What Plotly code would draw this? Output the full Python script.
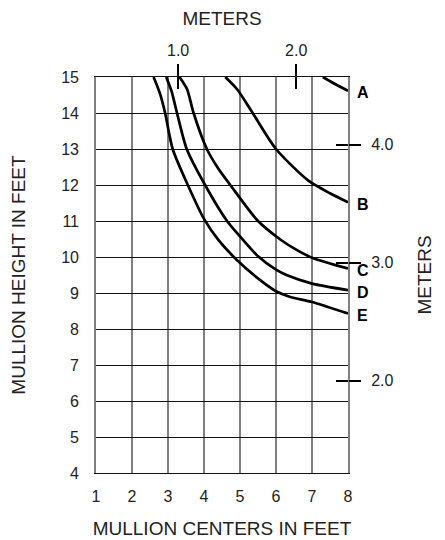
import plotly.graph_objects as go

# curves: mullion centers (ft) vs mullion height (ft)
curve_names = ['A', 'B', 'C', 'D', 'E']

a_x = [7.3, 7.65, 8.0]
a_y = [15.0, 14.8, 14.62]

b_x = [4.59, 4.92, 5.29, 6.0, 6.9, 7.5, 8.0]
b_y = [15.0, 14.66, 14.1, 13.0, 12.12, 11.77, 11.52]

c_x = [3.32, 3.53, 3.71, 4.08, 4.4, 4.73, 5.5, 6.13, 6.5, 7.0, 8.0]
c_y = [15.0, 14.66, 14.0, 13.0, 12.45, 12.0, 11.0, 10.48, 10.24, 9.98, 9.68]

d_x = [2.95, 3.1, 3.25, 3.52, 4.03, 4.64, 5.0, 5.47, 6.0, 6.31, 7.0, 8.0]
d_y = [15.0, 14.6, 14.0, 13.0, 12.0, 11.0, 10.57, 10.05, 9.65, 9.49, 9.26, 9.08]

e_x = [2.6, 2.78, 2.92, 3.13, 3.55, 4.0, 4.41, 4.92, 5.57, 6.0, 6.4, 7.0, 8.0]
e_y = [15.0, 14.53, 14.0, 13.0, 12.0, 11.06, 10.46, 9.91, 9.35, 9.05, 8.89, 8.75, 8.43]

curves_x = [a_x, b_x, c_x, d_x, e_x]
curves_y = [a_y, b_y, c_y, d_y, e_y]

feet_ticks = list(range(1, 9))
height_ticks = list(range(4, 16))
meter_top_ticks = [1.0, 2.0]
meter_right_ticks = [2.0, 3.0, 4.0]

FT = 0.3048
FONT = 'Liberation Sans, Arial, sans-serif'

fig = go.Figure()

for name, xs, ys in zip(curve_names, curves_x, curves_y):
	fig.add_trace(go.Scatter(
		x=xs, y=ys, mode='lines', name=name,
		line=dict(color='black', width=2.7, shape='spline', smoothing=0.7),
		showlegend=False, cliponaxis=False,
	))
	# curve letter just right of the frame
	fig.add_annotation(
		x=xs[-1], y=ys[-1], text='<b>%s</b>' % name,
		showarrow=False, xanchor='left', yanchor='middle',
		xshift=7, yshift=-2,
		font=dict(family=FONT, size=16, color='black'),
	)

x_range = [1, 8]
y_range = [4, 15]

# page body adds an 8px offset, so the figure is 8px smaller than the window
fig.update_layout(
	width=437,
	height=532,
	margin=dict(l=88, r=97, t=69, b=67),
	paper_bgcolor='white',
	plot_bgcolor='white',
	font=dict(family=FONT, size=16, color='#222'),
	xaxis=dict(
		range=x_range, tickvals=feet_ticks, automargin=False,
		showgrid=True, gridcolor='#808080', gridwidth=1.6,
		showline=True, linecolor='#111', linewidth=1.2, mirror=True,
		zeroline=False, ticks='', ticklabelstandoff=9,
		title=dict(text='MULLION CENTERS IN FEET', standoff=17),
	),
	yaxis=dict(
		range=y_range, tickvals=height_ticks, automargin=False,
		showgrid=True, gridcolor='#111', gridwidth=1.1,
		showline=True, linecolor='#808080', linewidth=1.6, mirror=True,
		zeroline=False, ticks='', ticklabelstandoff=12,
		title=dict(text='MULLION HEIGHT IN FEET', standoff=31),
	),
	# top meters axis: outward ticks with labels
	xaxis2=dict(
		overlaying='x', side='top', anchor='y', automargin=False,
		range=[x_range[0] * FT, x_range[1] * FT],
		tickvals=meter_top_ticks, tickformat='.1f',
		ticks='outside', ticklen=12, tickwidth=1.6, tickcolor='black',
		showgrid=False, zeroline=False, showline=False,
		ticklabelstandoff=2,
		title=dict(text='METERS', standoff=14),
	),
	# top meters axis: inward half of the same ticks
	xaxis3=dict(
		overlaying='x', side='top', anchor='y', automargin=False,
		range=[x_range[0] * FT, x_range[1] * FT],
		tickvals=meter_top_ticks, showticklabels=False,
		ticks='inside', ticklen=12, tickwidth=1.6, tickcolor='black',
		showgrid=False, zeroline=False, showline=False,
	),
	yaxis2=dict(
		overlaying='y', side='right', anchor='x', automargin=False,
		range=[y_range[0] * FT, y_range[1] * FT],
		tickvals=meter_right_ticks, tickformat='.1f',
		ticks='outside', ticklen=12, tickwidth=1.6, tickcolor='black',
		showgrid=False, zeroline=False, showline=False,
		ticklabelstandoff=7,
		title=dict(text='METERS', standoff=25),
	),
	yaxis3=dict(
		overlaying='y', side='right', anchor='x', automargin=False,
		range=[y_range[0] * FT, y_range[1] * FT],
		tickvals=meter_right_ticks, showticklabels=False,
		ticks='inside', ticklen=12, tickwidth=1.6, tickcolor='black',
		showgrid=False, zeroline=False, showline=False,
	),
)

# dummy traces so the meter axes are drawn
fig.add_trace(go.Scatter(x=[None], y=[None], xaxis='x2', yaxis='y2', showlegend=False, hoverinfo='skip'))
fig.add_trace(go.Scatter(x=[None], y=[None], xaxis='x3', yaxis='y3', showlegend=False, hoverinfo='skip'))

fig.write_html("out.html")
